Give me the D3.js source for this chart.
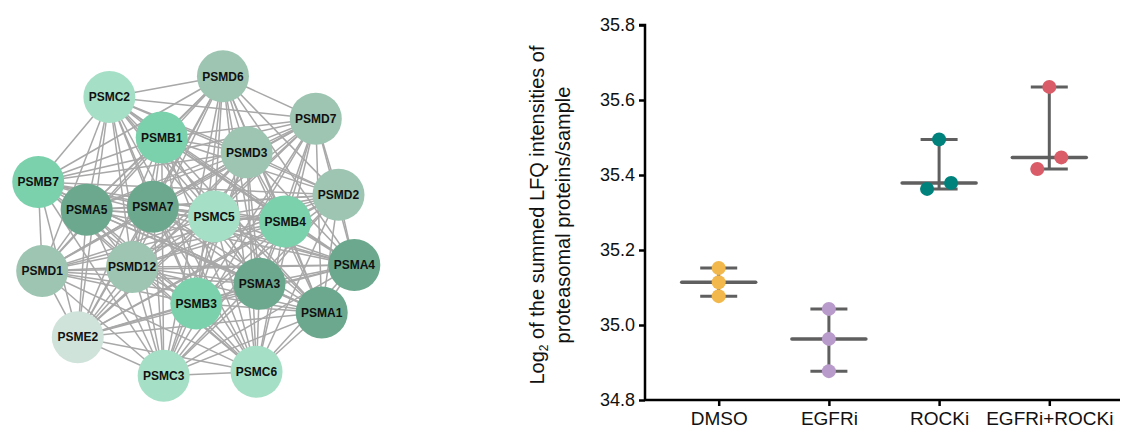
<!DOCTYPE html>
<html><head><meta charset="utf-8">
<script src="https://cdn.jsdelivr.net/npm/d3@7"></script>
<style>
html,body{margin:0;padding:0;background:#fff;}
svg{display:block;}
</style></head>
<body>
<svg id="chart" width="1122" height="432"></svg>
<script>
// ---------- network data ----------
const nodeNames = ["PSMD6","PSMC2","PSMD7","PSMB1","PSMD3","PSMB7","PSMD2","PSMA5","PSMA7","PSMC5",
  "PSMB4","PSMD1","PSMD12","PSMA4","PSMA3","PSMB3","PSMA1","PSME2","PSMC3","PSMC6"];
// layout coordinates (abstract layout units)
const nodeLayoutX = [19.1, 7.6, 28.5, 12.9, 21.5, 0.4, 30.8, 5.3, 12.0, 18.2,
  25.4, 0.8, 9.9, 32.4, 22.8, 16.4, 29.1, 4.4, 13.1, 22.5];
const nodeLayoutY = [0.3, 2.4, 4.6, 6.5, 8.0, 11.0, 12.3, 13.8, 13.5, 14.5,
  15.0, 20.0, 19.6, 19.4, 21.3, 23.3, 24.2, 26.7, 30.6, 30.2];
const nodeGroup = ["D","C","D","B","D","B","D","A","A","C",
  "B","D","D","A","A","B","A","E","C","C"];
const groupColors = {A:"#6ba88d", B:"#7ad1ac", C:"#a5e0c6", D:"#9dc5b2", E:"#cfe3da"};

// ---------- dot plot data ----------
const categories = ["DMSO","EGFRi","ROCKi","EGFRi+ROCKi"];
const dmso = [35.152, 35.114, 35.077];
const egfri = [35.043, 34.963, 34.877];
const rocki = [35.495, 35.379, 35.363];
const combo = [35.635, 35.447, 35.416];
const seriesValues = [dmso, egfri, rocki, combo];
const seriesColors = ["#f2b84b","#b99bcb","#00827c","#d95c68"];
const yTicks = [34.8, 35.0, 35.2, 35.4, 35.6, 35.8];

const svg = d3.select("#chart");

// ---------- network ----------
const nx = d3.scaleLinear().domain([0, 32.4]).range([34.3, 354.3]);
const ny = d3.scaleLinear().domain([0, 30.6]).range([73.3, 375.7]);
const nodes = nodeNames.map((n,i)=>({name:n, x:nx(nodeLayoutX[i]), y:ny(nodeLayoutY[i]), g:nodeGroup[i]}));
const links = [];
for (let i=0;i<nodes.length;i++) for (let j=i+1;j<nodes.length;j++) links.push([nodes[i],nodes[j]]);

const net = svg.append("g");
net.selectAll("line.edge").data(links).join("line")
  .attr("class","edge")
  .attr("x1",d=>d[0].x).attr("y1",d=>d[0].y)
  .attr("x2",d=>d[1].x).attr("y2",d=>d[1].y)
  .attr("stroke","#a8a8a8").attr("stroke-width",1.5);
const ng = net.selectAll("g.node").data(nodes).join("g")
  .attr("transform",d=>`translate(${d.x},${d.y})`);
ng.append("circle").attr("r",26).attr("fill",d=>groupColors[d.g]);
ng.append("text").text(d=>d.name)
  .attr("text-anchor","middle").attr("dy","0.36em")
  .attr("font-family","'Liberation Sans', Arial, sans-serif")
  .attr("font-weight","bold").attr("font-size","12px").attr("fill","#111");

// ---------- dot plot ----------
const x = d3.scalePoint().domain(categories).range([718.7, 1049.3]);
const y = d3.scaleLinear().domain([34.8, 35.8]).range([400, 25]);
const plot = svg.append("g");
const font = "'Liberation Sans', Arial, sans-serif";

// axes
const yAxis = plot.append("g").attr("transform","translate(645,0)")
  .call(d3.axisLeft(y).tickValues(yTicks).tickFormat(d3.format(".1f")).tickSize(6).tickPadding(4));
const xAxis = plot.append("g").attr("transform","translate(0,400)")
  .call(d3.axisBottom(x).tickSize(6).tickPadding(6));
xAxis.select(".domain").attr("d","M645,0H1120");
[yAxis, xAxis].forEach(a=>{
  a.select(".domain").attr("stroke","#000").attr("stroke-width",2.5);
  a.selectAll(".tick line").attr("stroke","#000").attr("stroke-width",2.5);
  a.selectAll(".tick text").attr("font-family",font).attr("font-size","18px").attr("fill","#111");
});
xAxis.selectAll(".tick text").attr("font-size","19px");
yAxis.select(".domain").attr("d","M-6,25H0V400");

// y label (two lines)
const lab1 = plot.append("text")
  .attr("transform","translate(544,215) rotate(-90)")
  .attr("text-anchor","middle").attr("font-family",font).attr("font-size","20px").attr("fill","#111");
lab1.append("tspan").text("Log");
lab1.append("tspan").text("2").attr("font-size","12px").attr("dy","4");
lab1.append("tspan").text(" of the summed LFQ intensities of").attr("dy","-4");
plot.append("text")
  .attr("transform","translate(570,215) rotate(-90)")
  .attr("text-anchor","middle").attr("font-family",font).attr("font-size","20px").attr("fill","#111")
  .text("proteasomal proteins/sample");

// groups
const lineColor = "#5f5f5f";
const medHalf = 37, capHalf = 18.5, threshold = 0.033, jitter = 12;
categories.forEach((c,i)=>{
  const vals = seriesValues[i];
  const cx = x(c);
  const med = d3.median(vals), lo = d3.min(vals), hi = d3.max(vals);
  const g = plot.append("g");
  g.append("line").attr("x1",cx).attr("x2",cx).attr("y1",y(hi)).attr("y2",y(lo))
    .attr("stroke",lineColor).attr("stroke-width",3);
  [hi, lo].forEach(v=>g.append("line").attr("x1",cx-capHalf).attr("x2",cx+capHalf)
    .attr("y1",y(v)).attr("y2",y(v)).attr("stroke",lineColor).attr("stroke-width",3));
  g.append("line").attr("x1",cx-medHalf).attr("x2",cx+medHalf).attr("y1",y(med)).attr("y2",y(med))
    .attr("stroke",lineColor).attr("stroke-width",3.5).attr("stroke-linecap","round");
  // simple beeswarm: close pairs are spread sideways
  const sorted = vals.map((v,k)=>({v,k})).sort((a,b)=>a.v-b.v);
  const off = new Array(vals.length).fill(0);
  for (let k=0;k<sorted.length-1;k++){
    if (sorted[k+1].v - sorted[k].v < threshold){
      off[sorted[k].k] = -jitter; off[sorted[k+1].k] = jitter;
    }
  }
  g.selectAll("circle").data(vals).join("circle")
    .attr("cx",(d,k)=>cx+off[k]).attr("cy",d=>y(d)).attr("r",7)
    .attr("fill",seriesColors[i]);
});
</script>
</body></html>
